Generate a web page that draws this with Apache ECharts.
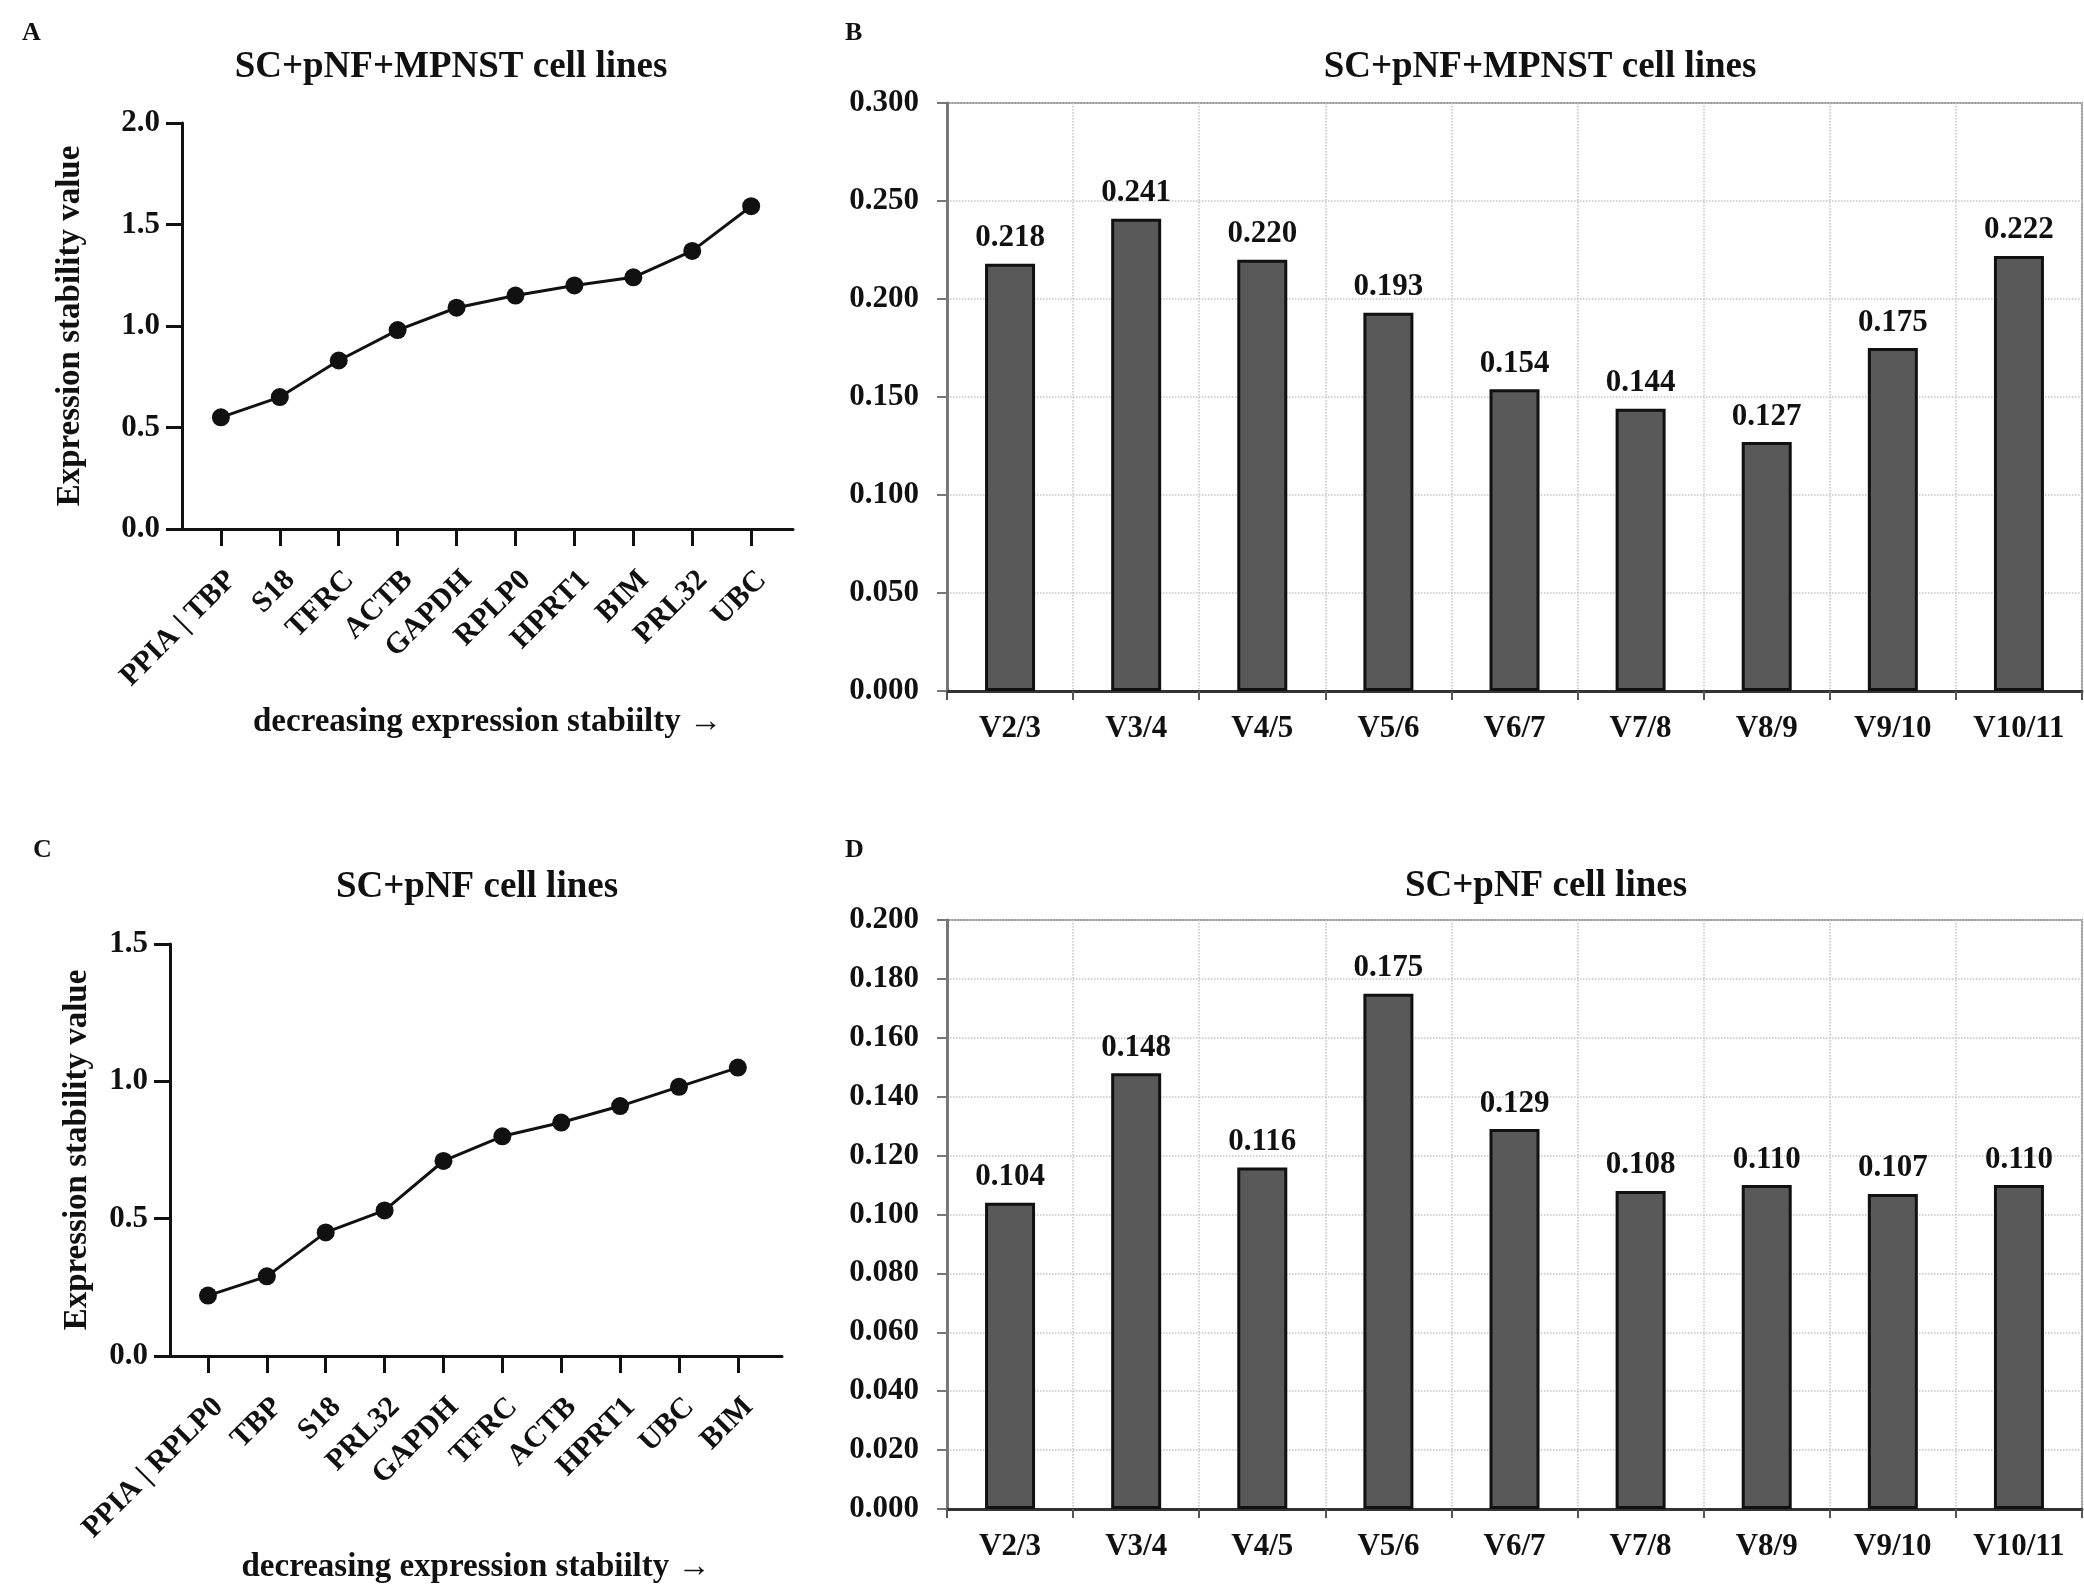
<!DOCTYPE html>
<html>
<head>
<meta charset="utf-8">
<script src="https://cdn.jsdelivr.net/npm/echarts@6/dist/echarts.min.js"></script>
<style>
  html, body { margin: 0; padding: 0; background: #fff; }
  #chart { width: 2084px; height: 1585px; }
</style>
</head>
<body>
<div id="chart"></div>
<script>
// panel A / C: geNorm stability values
var genesA = ['PPIA | TBP', 'S18', 'TFRC', 'ACTB', 'GAPDH', 'RPLP0', 'HPRT1', 'BIM', 'PRL32', 'UBC'];
var stabilityA = [0.55, 0.65, 0.83, 0.98, 1.09, 1.15, 1.20, 1.24, 1.37, 1.59];
var genesC = ['PPIA | RPLP0', 'TBP', 'S18', 'PRL32', 'GAPDH', 'TFRC', 'ACTB', 'HPRT1', 'UBC', 'BIM'];
var stabilityC = [0.22, 0.29, 0.45, 0.53, 0.71, 0.80, 0.85, 0.91, 0.98, 1.05];

// panel B / D: pairwise variation
var pairs = ['V2/3', 'V3/4', 'V4/5', 'V5/6', 'V6/7', 'V7/8', 'V8/9', 'V9/10', 'V10/11'];
var variationB = [0.218, 0.241, 0.220, 0.193, 0.154, 0.144, 0.127, 0.175, 0.222];
var variationD = [0.104, 0.148, 0.116, 0.175, 0.129, 0.108, 0.110, 0.107, 0.110];

var FONT = '"Liberation Serif", "Times New Roman", serif';
var chart = echarts.init(document.getElementById('chart'));

function txt(size) {
  return { fontFamily: FONT, fontWeight: 'bold', fontSize: size, color: '#111' };
}

// x axis for the line panels (value axis so the first point sits off the y axis)
function lineXAxis(grid, names, min, max, gap) {
  var idx = names.map(function (n, i) { return i; });
  return {
    type: 'value', gridIndex: grid, min: min, max: max,
    splitLine: { show: false },
    axisLine: { show: true, onZero: false, lineStyle: { color: '#111', width: 3 } },
    axisTick: { show: true, customValues: idx, length: 17, lineStyle: { color: '#111', width: 3 } },
    axisLabel: Object.assign(txt(30), {
      customValues: idx, rotate: 45, margin: 36, verticalAlign: 'top',
      formatter: function (v) { return names[Math.round(v)]; }
    }),
    name: 'decreasing expression stabiilty \u2192',
    nameLocation: 'middle', nameGap: gap,
    nameTextStyle: txt(33)
  };
}

function lineYAxis(grid, max, gap) {
  return {
    type: 'value', gridIndex: grid, min: 0, max: max, interval: 0.5,
    splitLine: { show: false },
    axisLine: { show: true, onZero: false, lineStyle: { color: '#111', width: 3 } },
    axisTick: { show: true, length: 16, lineStyle: { color: '#111', width: 3 } },
    axisLabel: Object.assign(txt(31), { margin: 22, formatter: function (v) { return v.toFixed(1); } }),
    name: 'Expression stability value',
    nameLocation: 'middle', nameGap: gap, nameTextStyle: txt(33)
  };
}

function barXAxis(grid) {
  return {
    type: 'category', gridIndex: grid, data: pairs,
    axisLine: { show: true, lineStyle: { color: '#333', width: 3 } },
    axisTick: { show: true, length: 9, lineStyle: { color: '#555', width: 2 } },
    axisLabel: Object.assign(txt(31), { margin: 22 }),
    splitLine: { show: true, interval: 0, lineStyle: { color: '#c4c4c4', type: 'dotted', width: 1.5 } }
  };
}

function barYAxis(grid, max, step) {
  return {
    type: 'value', gridIndex: grid, min: 0, max: max, interval: step,
    axisLine: { show: true, lineStyle: { color: '#777', width: 3 } },
    axisTick: { show: true, length: 10, lineStyle: { color: '#777', width: 2 } },
    axisLabel: Object.assign(txt(31), { margin: 28, formatter: function (v) { return v.toFixed(3); } }),
    splitLine: { show: true, lineStyle: { color: '#c4c4c4', type: 'dotted', width: 1.5 } }
  };
}

function barSeries(grid, values) {
  return {
    type: 'bar', xAxisIndex: grid, yAxisIndex: grid, data: values, barWidth: 50,
    itemStyle: { color: '#595959', borderColor: '#111', borderWidth: 3 },
    label: Object.assign(txt(31), {
      show: true, position: 'top', distance: 10,
      formatter: function (p) { return p.value.toFixed(3); }
    })
  };
}

var option = {
  backgroundColor: '#fff',
  animation: false,
  title: [
    { text: 'A', left: 17, top: 15, textStyle: txt(26) },
    { text: 'B', left: 840, top: 15, textStyle: txt(26) },
    { text: 'C', left: 28, top: 832, textStyle: txt(26) },
    { text: 'D', left: 840, top: 832, textStyle: txt(26) },
    { text: 'SC+pNF+MPNST cell lines', left: 446, top: 44, textAlign: 'center', textStyle: txt(37) },
    { text: 'SC+pNF+MPNST cell lines', left: 1535, top: 44, textAlign: 'center', textStyle: txt(37) },
    { text: 'SC+pNF cell lines', left: 472, top: 864, textAlign: 'center', textStyle: txt(37) },
    { text: 'SC+pNF cell lines', left: 1541, top: 863, textAlign: 'center', textStyle: txt(37) }
  ],
  grid: [
    { left: 182, width: 611, top: 123, height: 406 },
    { left: 947, right: 2, top: 103, height: 588, show: true, borderColor: '#999', borderWidth: 2, backgroundColor: 'transparent' },
    { left: 170, width: 612, top: 944, height: 414 },
    { left: 947, right: 2, top: 920, height: 589, show: true, borderColor: '#999', borderWidth: 2, backgroundColor: 'transparent' }
  ],
  xAxis: [
    lineXAxis(0, genesA, -0.66, 9.71, 177),
    barXAxis(1),
    lineXAxis(2, genesC, -0.645, 9.75, 195),
    barXAxis(3)
  ],
  yAxis: [
    lineYAxis(0, 2.0, 95),
    barYAxis(1, 0.3, 0.05),
    lineYAxis(2, 1.5, 76),
    barYAxis(3, 0.2, 0.02)
  ],
  series: [
    {
      type: 'line', xAxisIndex: 0, yAxisIndex: 0,
      data: stabilityA.map(function (v, i) { return [i, v]; }),
      symbol: 'circle', symbolSize: 18,
      lineStyle: { color: '#111', width: 3 }, itemStyle: { color: '#111' }
    },
    barSeries(1, variationB),
    {
      type: 'line', xAxisIndex: 2, yAxisIndex: 2,
      data: stabilityC.map(function (v, i) { return [i, v]; }),
      symbol: 'circle', symbolSize: 18,
      lineStyle: { color: '#111', width: 3 }, itemStyle: { color: '#111' }
    },
    barSeries(3, variationD)
  ]
};

chart.setOption(option);
</script>
</body>
</html>
